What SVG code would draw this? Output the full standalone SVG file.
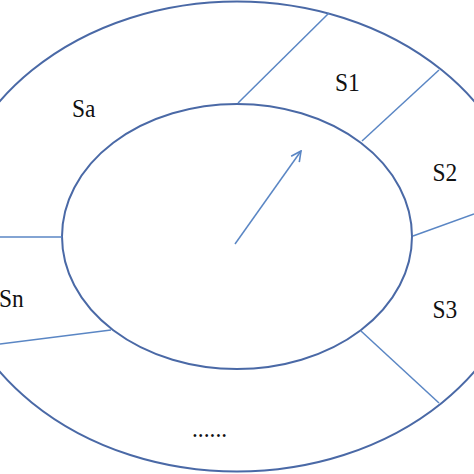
<svg xmlns="http://www.w3.org/2000/svg" width="474" height="474" viewBox="0 0 474 474">
<defs>
<style>
.ring{fill:none;stroke:#4a69a6;stroke-width:2}
.div{fill:none;stroke:#5a86c4;stroke-width:1.5}
.lbl{font-family:"Liberation Serif",serif;font-size:26px;fill:#111}
</style>
<marker id="open" viewBox="0 0 12 12" refX="11" refY="6" markerWidth="12" markerHeight="12" markerUnits="userSpaceOnUse" orient="auto">
<path d="M1,1 L11,6 L1,11" fill="none" stroke="#5a86c4" stroke-width="1.6"/>
</marker>
</defs>
<rect width="474" height="474" fill="#fff"/>
<g id="outer"><ellipse class="ring" cx="237" cy="236.5" rx="290" ry="235"/></g>
<g id="inner"><ellipse class="ring" cx="237" cy="236.5" rx="175" ry="132.5"/></g>
<g id="connectors">
<line class="div" x1="238" y1="103" x2="329" y2="13"/>
<line class="div" x1="362" y1="141" x2="439" y2="70"/>
<line class="div" x1="413" y1="236" x2="474" y2="214"/>
<line class="div" x1="361" y1="331" x2="439" y2="403"/>
<line class="div" x1="111" y1="330" x2="0" y2="344"/>
<line class="div" x1="0" y1="237" x2="62" y2="237"/>
<line class="div" x1="235" y1="244" x2="301" y2="151" stroke-width="2" marker-end="url(#open)"/>
</g>
<g id="labels">
<text class="lbl" transform="translate(72,117) scale(0.9,1)">Sa</text>
<text class="lbl" transform="translate(335,91) scale(0.9,1)">S1</text>
<text class="lbl" transform="translate(432.5,181) scale(0.9,1)">S2</text>
<text class="lbl" transform="translate(432.5,317.5) scale(0.9,1)">S3</text>
<text class="lbl" transform="translate(-1,307) scale(0.9,1)">Sn</text>
<text class="lbl" transform="translate(192,437) scale(0.9,1)">......</text>
</g>
</svg>
